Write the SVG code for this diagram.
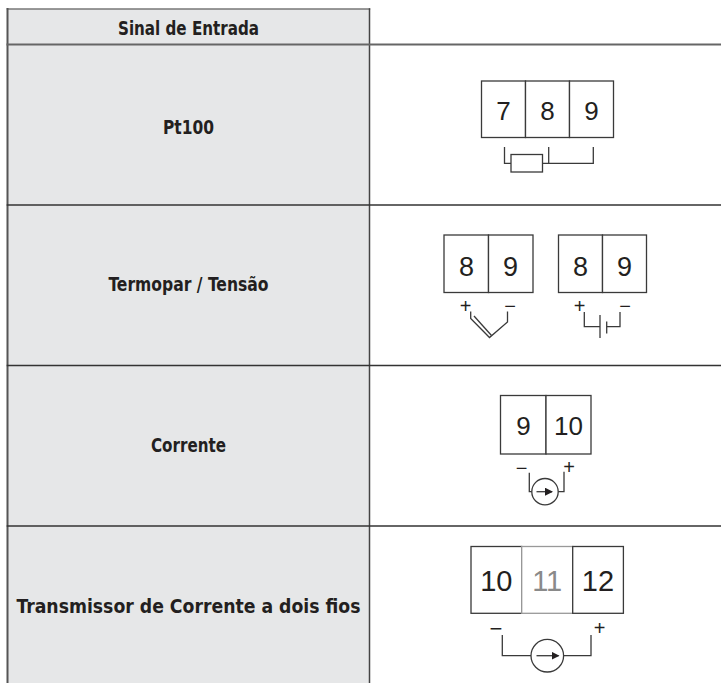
<svg xmlns="http://www.w3.org/2000/svg" width="721" height="683" viewBox="0 0 721 683">
<defs>
<style>
.lbl{font-family:"Liberation Sans Narrow","DejaVu Sans Condensed","Liberation Sans",sans-serif;font-weight:bold;font-size:19px;fill:#231f20;text-anchor:middle}
.dig{font-family:"Liberation Sans",Arial,sans-serif;fill:#231f20;text-anchor:middle}
.sgn{font-family:"Liberation Sans",Arial,sans-serif;font-size:20px;fill:#231f20;text-anchor:middle}
.box{fill:#fff;stroke:#3a3a3a;stroke-width:1.3}
.w{fill:none;stroke:#3a3a3a;stroke-width:1.3}
.grid{stroke-linecap:square}
</style>
<marker id="ah" markerWidth="8" markerHeight="8" refX="7" refY="4" orient="auto" markerUnits="userSpaceOnUse">
<path d="M0,0 L8,4 L0,8 z" fill="#231f20"/>
</marker>
</defs>
<rect x="0" y="0" width="721" height="683" fill="#fff"/>
<g id="grid" class="grid">
<rect x="7.5" y="9" width="362" height="674" fill="#e6e7e8"/>
<line x1="7.5" y1="9" x2="369.5" y2="9" stroke="#777" stroke-width="1.5"/>
<line x1="7.5" y1="9" x2="7.5" y2="683" stroke="#555" stroke-width="2"/>
<line x1="369.5" y1="9" x2="369.5" y2="683" stroke="#444" stroke-width="1.5"/>
<line x1="7.5" y1="44.5" x2="721" y2="44.5" stroke="#666" stroke-width="2"/>
<line x1="7.5" y1="205" x2="721" y2="205" stroke="#333" stroke-width="1.6"/>
<line x1="7.5" y1="365.5" x2="721" y2="365.5" stroke="#333" stroke-width="1.6"/>
<line x1="7.5" y1="526" x2="721" y2="526" stroke="#333" stroke-width="1.6"/>
</g>
<g id="header"><text class="lbl" x="188.5" y="34.5" textLength="141" lengthAdjust="spacingAndGlyphs">Sinal de Entrada</text></g>
<g id="row-pt100"><text class="lbl" x="188.5" y="133.5" textLength="51" lengthAdjust="spacingAndGlyphs">Pt100</text></g>
<g id="row-termopar"><text class="lbl" x="188.5" y="290.5" textLength="160" lengthAdjust="spacingAndGlyphs">Termopar / Tensão</text></g>
<g id="row-corrente"><text class="lbl" x="188.5" y="451.5" textLength="75" lengthAdjust="spacingAndGlyphs">Corrente</text></g>
<g id="row-transmissor"><text class="lbl" x="188.5" y="612.5" textLength="344" lengthAdjust="spacingAndGlyphs">Transmissor de Corrente a dois fios</text></g>

<g id="term-pt100">
<rect class="box" x="481.5" y="81" width="44" height="56.5"/>
<rect class="box" x="525.5" y="81" width="44" height="56.5"/>
<rect class="box" x="569.5" y="81" width="44" height="56.5"/>
<text class="dig" x="503.5" y="119.5" font-size="26">7</text>
<text class="dig" x="547.5" y="119.5" font-size="26">8</text>
<text class="dig" x="591.5" y="119.5" font-size="26">9</text>
<rect class="box" x="511" y="154.5" width="31.5" height="17.5"/>
</g>

<g id="term-termopar">
<rect class="box" x="444" y="235" width="44.5" height="57.5"/>
<rect class="box" x="488.5" y="235" width="44.5" height="57.5"/>
<text class="dig" x="466.5" y="276" font-size="27">8</text>
<text class="dig" x="510.5" y="276" font-size="27">9</text>
<text class="sgn" x="465.5" y="313">+</text>
<text class="sgn" x="510" y="313">−</text>
</g>

<g id="term-tensao">
<rect class="box" x="558.5" y="235" width="44" height="57.5"/>
<rect class="box" x="602.5" y="235" width="44" height="57.5"/>
<text class="dig" x="580.5" y="276" font-size="27">8</text>
<text class="dig" x="624.5" y="276" font-size="27">9</text>
<text class="sgn" x="579.5" y="313">+</text>
<text class="sgn" x="625" y="313">−</text>
</g>

<g id="term-corrente">
<rect class="box" x="500.5" y="395.5" width="45.5" height="58.5"/>
<rect class="box" x="546" y="395.5" width="45" height="58.5"/>
<text class="dig" x="523.5" y="435" font-size="26">9</text>
<text class="dig" x="568.5" y="435" font-size="26">10</text>
<text class="sgn" x="521.7" y="475.3">−</text>
<text class="sgn" x="569" y="473.7">+</text>
<circle class="w" cx="545" cy="491.7" r="13.2"/>
</g>

<g id="term-transmissor">
<rect class="box" x="471" y="546.5" width="50.7" height="66.8"/>
<rect x="521.7" y="546.5" width="51" height="66.8" fill="#fff" stroke="#999" stroke-width="1.3"/>
<rect class="box" x="572.7" y="546.5" width="50.7" height="66.8"/>
<text class="dig" x="496.3" y="591" font-size="29">10</text>
<text class="dig" x="547.2" y="591" font-size="29" style="fill:#8a8a8a">11</text>
<text class="dig" x="598" y="591" font-size="29">12</text>
<text class="sgn" x="496" y="635.5" style="font-size:22px">−</text>
<text class="sgn" x="599.5" y="635.3">+</text>
<circle class="w" cx="547.3" cy="655.7" r="16.3"/>
</g>

<g id="connectors">
<polyline class="w" points="504.5,147 504.5,163.3 511,163.3"/>
<line class="w" x1="548.7" y1="147" x2="548.7" y2="163.3"/>
<polyline class="w" points="542.5,163.3 593.3,163.3 593.3,147"/>

<polyline class="w" points="470.7,311.5 470.7,318.5 489.5,337.5 507.5,322 507.5,311.5"/>
<line class="w" x1="474" y1="316" x2="491.5" y2="335.5"/>

<polyline class="w" points="584.3,312 584.3,326.7 600,326.7"/>
<line class="w" x1="600" y1="315" x2="600" y2="338"/>
<line class="w" x1="606.7" y1="321.5" x2="606.7" y2="333.5"/>
<polyline class="w" points="606.7,326.7 620,326.7 620,312"/>

<polyline class="w" points="529.3,472.7 529.3,491.7 531.8,491.7"/>
<polyline class="w" points="558.2,491.7 564,491.7 564,471.7"/>
<line class="w" x1="536.5" y1="491.7" x2="552" y2="491.7" marker-end="url(#ah)"/>

<polyline class="w" points="502.3,635 502.3,655.7 531,655.7"/>
<polyline class="w" points="563.6,655.7 591,655.7 591,635"/>
<line class="w" x1="536.5" y1="655.7" x2="558.5" y2="655.7" stroke-width="1.6" marker-end="url(#ah)"/>
</g>
</svg>
